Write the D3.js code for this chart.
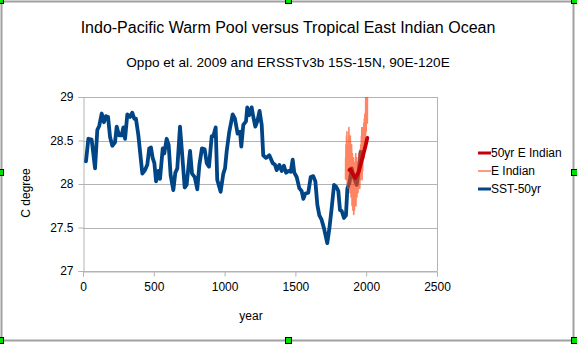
<!DOCTYPE html>
<html>
<head>
<meta charset="utf-8">
<script src="https://cdn.jsdelivr.net/npm/d3@7"></script>
<style>
  body { margin: 0; background: #fff; }
  svg { display: block; font-family: "Liberation Sans", Arial, sans-serif; }
</style>
</head>
<body>
<div id="chart"></div>
<script>
// SST-50yr (Oppo et al. 2009)
const sstYears = [21, 38, 61, 85, 101, 115, 132, 148, 162, 177, 191, 207, 226, 238, 254, 273, 285, 297,
  313, 332, 348, 362, 374, 391, 403, 419, 438, 454, 468, 480, 492, 504, 516, 532, 544, 563, 574, 591,
  605, 619, 638, 652, 666, 685, 699, 718, 732, 756, 770, 789, 807, 822, 840, 859, 874, 890, 909, 920,
  937, 948, 972, 991, 1003, 1015, 1033, 1057, 1073, 1092, 1109, 1118, 1132, 1151, 1160, 1174, 1191,
  1203, 1217, 1231, 1247, 1262, 1273, 1292, 1316, 1340, 1356, 1368, 1387, 1403, 1419, 1434, 1450,
  1467, 1481, 1492, 1509, 1528, 1544, 1556, 1570, 1591, 1608, 1626, 1641, 1655, 1669, 1685, 1702,
  1725, 1740, 1756, 1773, 1787, 1803, 1815, 1827, 1843, 1857, 1867, 1881, 1898, 1914, 1933, 1949, 1961];
const sstValues = [28.26, 28.52, 28.51, 28.18, 28.62, 28.67, 28.81, 28.71, 28.78, 28.77, 28.54, 28.44,
  28.48, 28.66, 28.56, 28.56, 28.65, 28.52, 28.80, 28.77, 28.82, 28.75, 28.75, 28.56, 28.37, 28.12,
  28.16, 28.22, 28.41, 28.42, 28.30, 28.24, 28.03, 28.15, 28.06, 28.41, 28.35, 28.52, 28.45, 28.10,
  27.93, 28.13, 28.18, 28.66, 28.37, 27.96, 27.99, 28.38, 28.12, 28.08, 27.94, 28.22, 28.41, 28.40,
  28.24, 28.20, 28.55, 28.55, 28.65, 28.05, 27.91, 28.12, 28.18, 28.38, 28.60, 28.80, 28.75, 28.58,
  28.60, 28.43, 28.68, 28.72, 28.88, 28.79, 28.88, 28.77, 28.66, 28.72, 28.84, 28.68, 28.33, 28.30,
  28.33, 28.24, 28.22, 28.16, 28.22, 28.15, 28.21, 28.13, 28.15, 28.14, 28.28, 28.13, 28.08, 27.95,
  27.92, 27.83, 27.89, 27.90, 28.08, 28.09, 28.03, 27.76, 27.64, 27.59, 27.49, 27.32, 27.49, 27.72,
  27.99, 27.97, 27.92, 27.70, 27.69, 27.61, 27.64, 27.95, 28.01, 28.18, 28.07, 27.99, 28.18, 28.37];

// E Indian, annual ERSSTv3b 1854-2010
const eIndianStart = 1854;
const eIndianValues = [
  28.05, 28.30, 28.15, 28.45, 28.20, 28.10, 28.35, 28.55, 28.25, 28.05,
  28.60, 28.30, 28.00, 28.20, 28.40, 28.15, 27.95, 28.25, 28.45, 28.10,
  28.05, 28.35, 28.20, 28.50, 28.65, 28.40, 28.15, 28.30, 28.05, 27.95,
  28.10, 28.20, 27.90, 28.35, 28.55, 28.10, 27.95, 28.25, 28.05, 27.85,
  28.15, 28.30, 28.00, 28.45, 28.25, 27.90, 27.75, 28.10, 28.35, 27.95,
  27.80, 28.05, 27.70, 28.20, 28.00, 27.85, 28.30, 27.95, 27.65, 27.90,
  28.10, 28.25, 27.80, 27.70, 28.00, 28.20, 27.95, 27.75, 28.15, 28.05,
  27.90, 28.20, 28.35, 27.85, 27.75, 28.00, 28.25, 27.95, 28.10, 28.30,
  28.00, 27.85, 28.15, 28.25, 27.95, 28.05, 28.20, 28.10, 27.90, 28.15,
  28.25, 28.05, 28.00, 28.20, 28.35, 27.95, 28.10, 28.30, 28.15, 28.05,
  28.25, 27.95, 28.10, 28.40, 28.20, 28.05, 28.30, 28.15, 28.45, 28.25,
  28.10, 28.35, 28.55, 28.15, 28.30, 28.65, 28.20, 28.05, 28.45, 28.35,
  28.25, 28.15, 28.40, 28.60, 28.30, 28.50, 28.65, 28.35, 28.55, 28.70,
  28.30, 28.45, 28.60, 28.75, 28.50, 28.40, 28.80, 28.55, 28.65, 28.45,
  28.70, 28.55, 28.85, 29.05, 29.20, 28.75, 28.60, 28.90, 29.00, 28.80,
  28.85, 29.10, 28.95, 29.05, 28.70, 29.15, 29.20];

// 50yr E Indian
const e50Years = [1881, 1888, 1900, 1923, 1947, 1970, 1994, 2008];
const e50Values = [28.16, 28.17, 28.13, 28.07, 28.14, 28.28, 28.43, 28.53];

const xTicks = [0, 500, 1000, 1500, 2000, 2500];
const yTicks = [27, 27.5, 28, 28.5, 29];
const legendLabels = ["50yr E Indian", "E Indian", "SST-50yr"];

const W = 577, H = 344;
const plot = { left: 83, right: 437, top: 97, bottom: 271 };

const x = d3.scaleLinear().domain([0, 2500]).range([plot.left, plot.right]);
const y = d3.scaleLinear().domain([27, 29]).range([plot.bottom, plot.top]);

const svg = d3.select("#chart").append("svg")
  .attr("width", W).attr("height", H);

svg.append("defs").append("clipPath").attr("id", "clip")
  .append("rect")
  .attr("x", plot.left).attr("y", plot.top)
  .attr("width", plot.right - plot.left).attr("height", plot.bottom - plot.top);

// outer frame
svg.append("rect")
  .attr("x", 1.5).attr("y", 1.5).attr("width", W - 5).attr("height", H - 5)
  .attr("fill", "#fff").attr("stroke", "#a0a0a0").attr("stroke-width", 2);

// titles
svg.append("text").attr("x", 288).attr("y", 33).attr("text-anchor", "middle")
  .attr("font-size", 16).attr("fill", "#000")
  .text("Indo-Pacific Warm Pool versus Tropical East Indian Ocean");
svg.append("text").attr("x", 288).attr("y", 67).attr("text-anchor", "middle")
  .attr("font-size", 13.6).attr("fill", "#000")
  .text("Oppo et al. 2009 and ERSSTv3b 15S-15N, 90E-120E");

// grid
svg.append("g").selectAll("line").data(yTicks).join("line")
  .attr("x1", plot.left).attr("x2", plot.right)
  .attr("y1", d => Math.round(y(d)) + 0.5).attr("y2", d => Math.round(y(d)) + 0.5)
  .attr("stroke", "#b3b3b3");
svg.append("line")
  .attr("x1", plot.right + 0.5).attr("x2", plot.right + 0.5)
  .attr("y1", plot.top).attr("y2", plot.bottom)
  .attr("stroke", "#b3b3b3");

// axes
const xAxis = svg.append("g")
  .attr("transform", `translate(0,${plot.bottom + 0.5})`)
  .call(d3.axisBottom(x).tickValues(xTicks).tickSize(5).tickPadding(6).tickFormat(d3.format("d")));
const yAxis = svg.append("g")
  .attr("transform", `translate(${plot.left + 0.5},0)`)
  .call(d3.axisLeft(y).tickValues(yTicks).tickSize(5).tickPadding(5).tickFormat(d => d));
[xAxis, yAxis].forEach(g => {
  g.select(".domain").attr("stroke", "#b3b3b3");
  g.selectAll(".tick line").attr("stroke", "#b3b3b3");
  g.selectAll(".tick text").attr("fill", "#000").attr("font-size", 12)
    .attr("font-family", "Liberation Sans, Arial, sans-serif");
});

// axis titles
svg.append("text").attr("x", 251).attr("y", 320).attr("text-anchor", "middle")
  .attr("font-size", 12).attr("fill", "#000").text("year");
svg.append("text").attr("transform", "translate(30,193) rotate(-90)")
  .attr("text-anchor", "middle").attr("font-size", 12).attr("fill", "#000")
  .text("C degree");

// series
const lines = svg.append("g").attr("clip-path", "url(#clip)");
const mk = d3.line().x(d => x(d[0])).y(d => y(d[1]));

lines.append("path")
  .attr("d", mk(sstYears.map((yr, i) => [yr, sstValues[i]])))
  .attr("fill", "none").attr("stroke", "#004586").attr("stroke-width", 3.8)
  .attr("stroke-linejoin", "round").attr("stroke-linecap", "round");

lines.append("path")
  .attr("d", mk(eIndianValues.map((v, i) => [eIndianStart + i, v])))
  .attr("fill", "none").attr("stroke", "#ff420e").attr("stroke-opacity", 0.65)
  .attr("stroke-width", 1.6).attr("stroke-linejoin", "round");

lines.append("path")
  .attr("d", mk(e50Years.map((yr, i) => [yr, e50Values[i]])))
  .attr("fill", "none").attr("stroke", "#c5000b").attr("stroke-width", 3.8)
  .attr("stroke-linejoin", "round").attr("stroke-linecap", "round");

// legend
const legendStyles = [
  { color: "#c5000b", width: 3, opacity: 1 },
  { color: "#ff420e", width: 1.5, opacity: 0.7 },
  { color: "#004586", width: 3, opacity: 1 }
];
const lg = svg.append("g").selectAll("g").data(legendLabels).join("g")
  .attr("transform", (d, i) => `translate(478,${153 + i * 18})`);
lg.append("line").attr("x1", 0).attr("x2", 13).attr("y1", 0).attr("y2", 0)
  .attr("stroke", (d, i) => legendStyles[i].color)
  .attr("stroke-width", (d, i) => legendStyles[i].width)
  .attr("stroke-opacity", (d, i) => legendStyles[i].opacity);
lg.append("text").attr("x", 13).attr("y", 0).attr("dy", "0.35em")
  .attr("font-size", 12).attr("fill", "#000").text(d => d);

// selection handles
const handles = [[0, 0], [288, 0], [574, 0], [0, 172], [574, 172], [0, 340], [288, 340], [574, 340]];
svg.append("g").selectAll("rect").data(handles).join("rect")
  .attr("x", d => d[0] - 2.5).attr("y", d => d[1] - 2.5)
  .attr("width", 6).attr("height", 6)
  .attr("fill", "#00e000").attr("stroke", "#000").attr("stroke-width", 1);
</script>
</body>
</html>
